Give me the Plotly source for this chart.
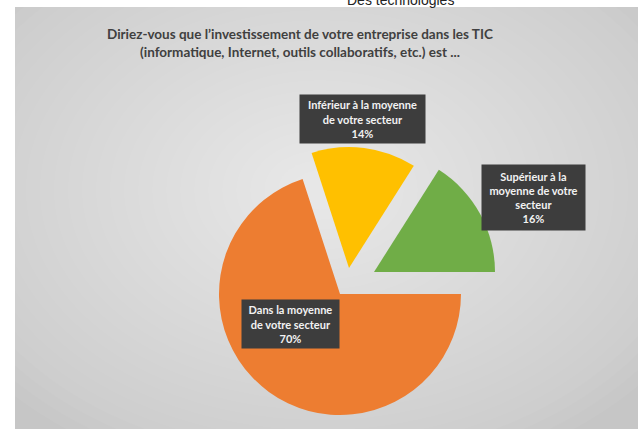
import plotly.graph_objects as go

labels = ["Dans la moyenne de votre secteur", "Inférieur à la moyenne de votre secteur",
          "Supérieur à la moyenne de votre secteur"]
values = [70, 14, 16]
colors = ["#ED7D31", "#FFC000", "#70AD47"]
box_texts = [
    "Dans la moyenne<br>de votre secteur<br>70%",
    "Inférieur à la moyenne<br>de votre secteur<br>14%",
    "Supérieur à la<br>moyenne de votre<br>secteur<br>16%",
]
title = ("Diriez-vous que l’investissement de votre entreprise dans les TIC<br>"
         "(informatique, Internet, outils collaboratifs, etc.) est ...")

W, H = 638, 429
R = 121
CX, CY = 340, 294  # pie centre in px from top-left
# exploded offset (px right, px up) for each slice
offsets = [(0, 0), (9, 26), (34, 22)]
# label box centres (px from top-left) and sizes
box_pos = [(290, 324, 97, 48), (362, 119, 125, 48), (533, 197, 103, 65)]


def px_x(x):
    return x / W


def px_y(y):
    return 1 - y / H


fig = go.Figure()
for i, (dx, dy) in enumerate(offsets):
    cx, cy = CX + dx, CY - dy
    cols = ["rgba(0,0,0,0)"] * len(values)
    cols[i] = colors[i]
    fig.add_trace(go.Pie(
        labels=labels, values=values, sort=False, direction="clockwise", rotation=90,
        marker={"colors": cols, "line": {"width": 0}},
        textinfo="none", hoverinfo="label+percent", showlegend=False,
        domain={"x": [px_x(cx - R), px_x(cx + R)], "y": [px_y(cy + R), px_y(cy - R)]},
    ))

# gray panel with a soft radial lightening towards the centre
shapes = [dict(type="rect", xref="paper", yref="paper", x0=px_x(15), x1=1, y0=0, y1=px_y(7),
               fillcolor="#c6c6c6", line={"width": 0}, layer="below")]
gx, gy = 320, 190
steps = 30
for k in range(steps):
    s = 1 - k / steps
    rx, ry = 420 * s, 300 * s
    shapes.append(dict(type="circle", xref="paper", yref="paper",
                       x0=px_x(gx - rx), x1=px_x(gx + rx), y0=px_y(gy + ry), y1=px_y(gy - ry),
                       fillcolor="white", opacity=0.038, line={"width": 0}, layer="below"))

annotations = [
    dict(text=title, x=px_x(300), y=px_y(43), xref="paper", yref="paper", showarrow=False,
         xanchor="center", yanchor="middle",
         font={"family": "Lato", "size": 13.5, "color": "#404040", "weight": "bold"}),
    dict(text="Des technologies", x=px_x(400), y=px_y(0), xref="paper", yref="paper",
         showarrow=False, xanchor="center", yanchor="middle",
         font={"family": "Liberation Sans", "size": 14, "color": "#222222"}),
]
for txt, (bx, by, bw, bh) in zip(box_texts, box_pos):
    annotations.append(dict(
        text="<b>" + txt + "</b>", x=px_x(bx), y=px_y(by), xref="paper", yref="paper",
        showarrow=False, xanchor="center", yanchor="middle",
        width=bw, height=bh, borderpad=0, bgcolor="#3d3d3d",
        font={"family": "Lato", "size": 11, "color": "#f2f2f2"},
    ))

fig.update_layout(
    width=W, height=H, margin={"l": 0, "r": 0, "t": 0, "b": 0},
    paper_bgcolor="white", plot_bgcolor="white",
    shapes=shapes, annotations=annotations,
)
fig.write_html(
    "out.html",
    config={"displayModeBar": False},
    post_script="document.body.style.margin='0px';document.body.style.overflow='hidden';",
)
